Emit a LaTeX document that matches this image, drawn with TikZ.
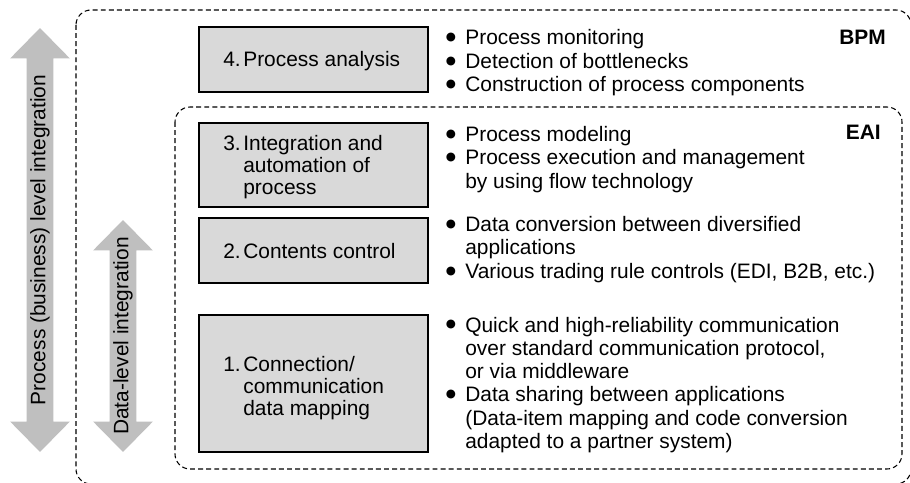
\documentclass[tikz,border=0pt]{standalone}
\usepackage{fontspec}
\setmainfont{Liberation Sans}
\newfontfamily\symfont{DejaVu Sans}
\usetikzlibrary{shapes.arrows, positioning}
\definecolor{boxgray}{RGB}{217,217,217}
\definecolor{arrowgray}{RGB}{191,191,191}
\newcommand{\blt}{\raisebox{2.3pt}{\symfont\fontsize{6.6}{6.6}\selectfont ●}}

\begin{document}
\begin{tikzpicture}[x=0.02cm, y=-0.02cm,
  font=\fontsize{11.9}{13.26}\selectfont,
  layerbox/.style={draw, line width=0.7pt, fill=boxgray, minimum width=4.58cm},
  layertext/.style={anchor=base west, inner sep=0pt, font=\fontsize{11.9}{12.6}\selectfont},
  bullets/.style={anchor=base west, inner sep=0pt},
  tag/.style={anchor=base east, font=\fontsize{11.9}{13.26}\selectfont\bfseries},
  frame/.style={line width=0.6pt, dash pattern=on 2.8pt off 1.8pt, rounded corners=0.3cm},
  updown/.style={double arrow, fill=arrowgray, rotate=90, minimum width=1.18cm,
    double arrow head extend=0.33cm, double arrow tip angle=89,
    inner ysep=1.7pt, inner xsep=0pt, text height=8.7pt, text depth=2.6pt}]

\useasboundingbox (0,0) rectangle (910,483);

% Frames (BPM and EAI)
\draw[frame] (76,10) rectangle (911,484);
\draw[frame] (175,107) rectangle (902,469);
\node[tag] (bpm) at (892,45) {BPM};
\node[tag] (eai) at (887,140) {EAI};

% Integration levels
\node[updown, minimum height=8.48cm] (procarrow) at (40,240) {Process (business) level integration};
\node[updown, minimum height=4.64cm] (dataarrow) at (123,336) {Data-level integration};

% Layers
\node[layerbox, minimum height=1.30cm] (box4) at (313.5,59.5) {};
\node[layerbox, minimum height=1.68cm] (box3) at (313.5,165) {};
\node[layerbox, minimum height=1.30cm] (box2) at (313.5,250.5) {};
\node[layerbox, minimum height=2.74cm] (box1) at (313.5,383.5) {};

\node[layertext] (name4) at (223,66.7) {\begin{tabular}[t]{@{}p{0.4cm}@{}l@{}}4.&Process analysis\end{tabular}};
\node[layertext] (name3) at (223,150.5) {\begin{tabular}[t]{@{}p{0.4cm}@{}l@{}}3.&Integration and\\&automation of\\&process\end{tabular}};
\node[layertext] (name2) at (223,258.5) {\begin{tabular}[t]{@{}p{0.4cm}@{}l@{}}2.&Contents control\end{tabular}};
\node[layertext] (name1) at (223,371.5) {\begin{tabular}[t]{@{}p{0.4cm}@{}l@{}}1.&Connection/\\&communication\\&data mapping\end{tabular}};

% Functions of each layer
\node[bullets] (list4) at (445.5,45) {\begin{tabular}[t]{@{}p{0.39cm}@{}l@{}}
  \blt & Process monitoring\\
  \blt & Detection of bottlenecks\\
  \blt & Construction of process components\end{tabular}};
\node[bullets] (list3) at (445.5,141.7) {\begin{tabular}[t]{@{}p{0.39cm}@{}l@{}}
  \blt & Process modeling\\
  \blt & Process execution and management\\
  & by using flow technology\end{tabular}};
\node[bullets] (list2) at (445.5,231.7) {\begin{tabular}[t]{@{}p{0.39cm}@{}l@{}}
  \blt & Data conversion between diversified\\
  & applications\\
  \blt & Various trading rule controls (EDI, B2B, etc.)\end{tabular}};
\node[bullets] (list1) at (445.5,332) {\begin{tabular}[t]{@{}p{0.39cm}@{}l@{}}
  \blt & Quick and high-reliability communication\\
  & over standard communication protocol,\\
  & or via middleware\\
  \blt & Data sharing between applications\\
  & (Data-item mapping and code conversion\\
  & adapted to a partner system)\end{tabular}};

\end{tikzpicture}
\end{document}
